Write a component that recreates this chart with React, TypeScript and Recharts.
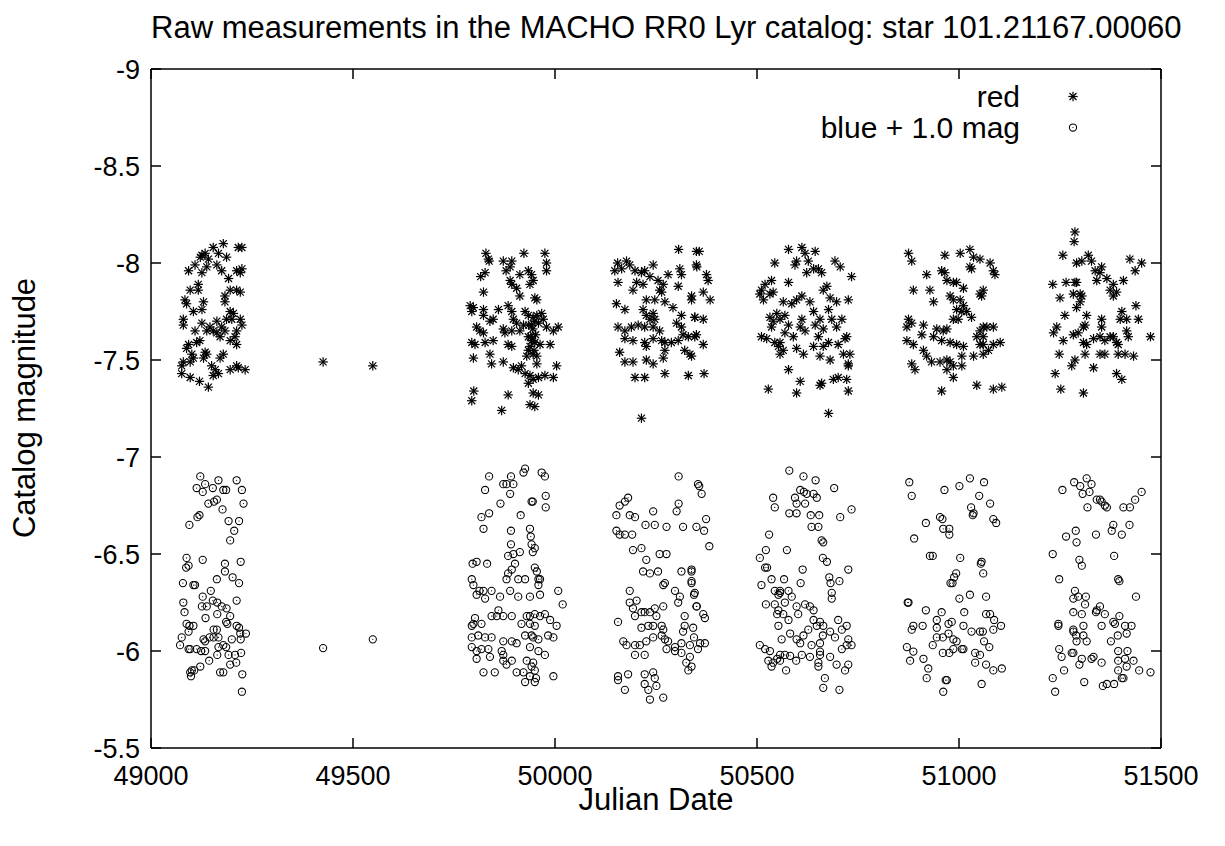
import React from "react";
import { ScatterChart, Scatter, XAxis, YAxis, Legend } from "recharts";

document.body.style.margin = "0";

type Pair = [number, number];

const FONT = '"Liberation Sans", Arial, Helvetica, sans-serif';
const TICK_SIZE = 27;
const LABEL_SIZE = 31;

const jdTicks = [49000, 49500, 50000, 50500, 51000, 51500];
const magTicks = [-9, -8.5, -8, -7.5, -7, -6.5, -6, -5.5];

// red band, [julian date, magnitude]
const redSeason1: Pair[] = [
  [49179, -8.1], [49154, -8.08], [49216, -8.08], [49225, -8.08], [49126, -8.04], [49134, -8.05],
  [49167, -8.05], [49187, -8.03], [49122, -8.03], [49142, -8.02], [49093, -7.96], [49109, -7.99],
  [49126, -7.95], [49138, -7.98], [49163, -7.99], [49175, -7.96], [49192, -7.92], [49212, -7.96],
  [49225, -7.97], [49221, -7.95], [49117, -7.89], [49097, -7.86], [49117, -7.86], [49196, -7.86],
  [49212, -7.86], [49221, -7.85], [49084, -7.81], [49088, -7.79], [49130, -7.8], [49126, -7.76],
  [49105, -7.75], [49183, -7.83], [49183, -7.8], [49196, -7.75], [49204, -7.74], [49080, -7.71],
  [49080, -7.68], [49109, -7.65], [49126, -7.69], [49146, -7.67], [49163, -7.7], [49175, -7.67],
  [49187, -7.71], [49200, -7.71], [49221, -7.71], [49225, -7.68], [49212, -7.65], [49183, -7.65],
  [49163, -7.64], [49171, -7.62], [49208, -7.62], [49212, -7.58], [49196, -7.6], [49154, -7.65],
  [49138, -7.65], [49121, -7.6], [49113, -7.59], [49093, -7.58], [49088, -7.56], [49101, -7.53],
  [49105, -7.51], [49080, -7.49], [49076, -7.47], [49097, -7.49], [49134, -7.54], [49138, -7.53],
  [49130, -7.51], [49179, -7.53], [49171, -7.51], [49150, -7.47], [49159, -7.45], [49167, -7.43],
  [49154, -7.42], [49196, -7.45], [49212, -7.47], [49216, -7.46], [49233, -7.45], [49076, -7.43],
  [49097, -7.41], [49120, -7.39], [49142, -7.36],
];

const redGap: Pair[] = [[49426, -7.49], [49549, -7.47]];

const redSeason2: Pair[] = [
  [49829, -8.05], [49835, -8.02], [49837, -8.01], [49923, -8.05], [49975, -8.05], [49979, -8.0],
  [49979, -7.96], [49872, -8.01], [49893, -8.01], [49889, -7.98], [49879, -7.96], [49913, -7.94],
  [49934, -7.96], [49942, -7.94], [49946, -7.91], [49938, -7.89], [49827, -7.95], [49816, -7.93],
  [49889, -7.91], [49893, -7.89], [49905, -7.87], [49913, -7.83], [49950, -7.82], [49955, -7.81],
  [49823, -7.85], [49790, -7.78], [49798, -7.77], [49794, -7.75], [49823, -7.76], [49823, -7.73],
  [49860, -7.76], [49884, -7.78], [49893, -7.75], [49847, -7.71], [49839, -7.7], [49926, -7.75],
  [49934, -7.73], [49946, -7.72], [49955, -7.73], [49967, -7.74], [49971, -7.71], [49897, -7.71],
  [49905, -7.69], [49922, -7.68], [49942, -7.68], [49959, -7.69], [49979, -7.67], [50008, -7.67],
  [49996, -7.65], [49806, -7.67], [49814, -7.65], [49823, -7.64], [49872, -7.66], [49876, -7.64],
  [49893, -7.65], [49913, -7.65], [49934, -7.62], [49942, -7.6], [49950, -7.59], [49938, -7.57],
  [49963, -7.58], [49988, -7.58], [49794, -7.59], [49802, -7.58], [49827, -7.59], [49847, -7.6],
  [49884, -7.58], [49893, -7.57], [49934, -7.55], [49946, -7.53], [49955, -7.52], [49930, -7.52],
  [49955, -7.48], [49798, -7.51], [49839, -7.53], [49843, -7.48], [49872, -7.49], [49917, -7.47],
  [49897, -7.46], [49909, -7.45], [49926, -7.43], [49938, -7.42], [49934, -7.38], [49946, -7.4],
  [49959, -7.41], [49975, -7.42], [49996, -7.41], [50004, -7.47], [49799, -7.34], [49794, -7.29],
  [49884, -7.32], [49946, -7.33], [49959, -7.32], [49868, -7.24], [49938, -7.27], [49950, -7.26],
  [49940, -7.62], [49945, -7.66], [49950, -7.7], [49935, -7.68], [49948, -7.55], [49952, -7.63],
];

const redSeason3: Pair[] = [
  [50306, -8.07], [50350, -8.06], [50350, -7.99], [50155, -8.0], [50148, -7.96], [50165, -7.97],
  [50177, -8.01], [50185, -7.99], [50198, -7.96], [50214, -7.95], [50222, -7.96], [50243, -7.99],
  [50235, -7.93], [50255, -7.91], [50268, -7.89], [50280, -7.94], [50309, -7.97], [50313, -7.94],
  [50193, -7.86], [50156, -7.9], [50202, -7.9], [50218, -7.89], [50259, -7.86], [50264, -7.85],
  [50305, -7.88], [50338, -7.83], [50338, -7.81], [50152, -7.79], [50173, -7.76], [50226, -7.81],
  [50247, -7.81], [50272, -7.8], [50292, -7.77], [50218, -7.76], [50226, -7.73], [50235, -7.71],
  [50243, -7.74], [50247, -7.71], [50313, -7.73], [50346, -7.72], [50156, -7.67], [50173, -7.65],
  [50189, -7.67], [50206, -7.68], [50222, -7.67], [50243, -7.67], [50259, -7.65], [50301, -7.69],
  [50313, -7.67], [50173, -7.61], [50193, -7.6], [50222, -7.59], [50226, -7.57], [50243, -7.61],
  [50264, -7.6], [50272, -7.59], [50288, -7.59], [50305, -7.6], [50317, -7.63], [50330, -7.62],
  [50350, -7.63], [50272, -7.55], [50321, -7.55], [50334, -7.53], [50338, -7.52], [50160, -7.54],
  [50173, -7.49], [50193, -7.49], [50226, -7.5], [50243, -7.48], [50268, -7.51], [50198, -7.41],
  [50222, -7.41], [50272, -7.43], [50330, -7.42], [50214, -7.2], [50357, -8.06], [50351, -7.98],
  [50375, -7.94], [50379, -7.91], [50367, -7.85], [50384, -7.81], [50346, -7.72], [50367, -7.71],
  [50346, -7.62], [50367, -7.58], [50369, -7.43],
];

const redSeason4: Pair[] = [
  [50544, -8.0], [50520, -7.89], [50511, -7.86], [50507, -7.84], [50516, -7.81], [50532, -7.84],
  [50540, -7.85], [50536, -7.91], [50532, -7.72], [50540, -7.7], [50549, -7.74], [50536, -7.67],
  [50511, -7.62], [50524, -7.61], [50544, -7.59], [50553, -7.57], [50557, -7.53], [50528, -7.35],
  [50578, -8.07], [50611, -8.08], [50619, -8.05], [50644, -8.06], [50598, -8.01], [50594, -7.99],
  [50627, -8.01], [50640, -7.97], [50652, -7.97], [50660, -7.95], [50623, -7.95], [50693, -8.01],
  [50706, -7.98], [50734, -7.93], [50578, -7.9], [50664, -7.86], [50673, -7.88], [50681, -7.82],
  [50697, -7.8], [50726, -7.81], [50611, -7.83], [50598, -7.81], [50565, -7.8], [50586, -7.79],
  [50631, -7.8], [50677, -7.76], [50710, -7.71], [50640, -7.75], [50656, -7.71], [50685, -7.71],
  [50611, -7.71], [50569, -7.73], [50557, -7.71], [50578, -7.68], [50607, -7.67], [50619, -7.65],
  [50644, -7.68], [50664, -7.66], [50697, -7.67], [50722, -7.62], [50718, -7.61], [50569, -7.64],
  [50590, -7.62], [50652, -7.62], [50677, -7.59], [50701, -7.58], [50598, -7.56], [50615, -7.53],
  [50640, -7.57], [50664, -7.57], [50557, -7.59], [50565, -7.55], [50714, -7.53], [50730, -7.53],
  [50656, -7.52], [50681, -7.5], [50726, -7.48], [50726, -7.47], [50578, -7.45], [50607, -7.39],
  [50660, -7.38], [50656, -7.37], [50689, -7.4], [50701, -7.41], [50722, -7.4], [50598, -7.33],
  [50726, -7.34], [50677, -7.225],
];

const redSeason5: Pair[] = [
  [50875, -8.05], [50883, -8.01], [50920, -7.94], [50965, -8.04], [51003, -8.05], [51027, -8.07],
  [51036, -8.03], [51052, -8.02], [51077, -8.0], [51031, -7.97], [51027, -7.98], [50957, -7.96],
  [50965, -7.95], [50970, -7.91], [50986, -7.9], [50994, -7.9], [51011, -7.87], [51085, -7.96],
  [51089, -7.94], [51052, -7.84], [51060, -7.86], [51056, -7.83], [50887, -7.86], [50928, -7.86],
  [50937, -7.8], [50978, -7.83], [50986, -7.81], [51003, -7.81], [51011, -7.78], [50994, -7.76],
  [51007, -7.75], [51019, -7.75], [50986, -7.71], [50998, -7.71], [51031, -7.72], [50875, -7.71],
  [50883, -7.69], [50871, -7.67], [50912, -7.68], [50945, -7.66], [50961, -7.65], [50970, -7.66],
  [50937, -7.62], [50908, -7.63], [50871, -7.6], [50887, -7.58], [50957, -7.6], [50978, -7.59],
  [50994, -7.58], [51052, -7.65], [51060, -7.67], [51069, -7.67], [51085, -7.67], [51102, -7.59],
  [51085, -7.58], [51052, -7.58], [51060, -7.58], [51011, -7.57], [51044, -7.62], [51060, -7.62],
  [50912, -7.55], [50920, -7.52], [50932, -7.49], [50953, -7.49], [50970, -7.5], [50978, -7.49],
  [51007, -7.52], [50986, -7.47], [50970, -7.45], [50883, -7.48], [50891, -7.45], [51007, -7.47],
  [50986, -7.41], [51036, -7.52], [51060, -7.53], [51073, -7.55], [50957, -7.34], [51044, -7.37],
  [51085, -7.35], [51106, -7.36],
];

const redSeason6: Pair[] = [
  [51287, -8.16], [51285, -8.11], [51257, -8.04], [51320, -8.04], [51304, -8.01], [51291, -8.0],
  [51328, -8.01], [51353, -7.98], [51349, -7.95], [51337, -7.96], [51366, -7.92], [51341, -7.91],
  [51407, -7.91], [51423, -8.02], [51452, -8.0], [51436, -7.96], [51232, -7.89], [51265, -7.9],
  [51287, -7.9], [51291, -7.9], [51382, -7.89], [51374, -7.86], [51390, -7.85], [51382, -7.83],
  [51250, -7.82], [51283, -7.84], [51300, -7.84], [51304, -7.83], [51300, -7.8], [51291, -7.77],
  [51438, -7.78], [51262, -7.73], [51316, -7.73], [51403, -7.75], [51353, -7.71], [51399, -7.71],
  [51415, -7.71], [51444, -7.71], [51242, -7.67], [51234, -7.64], [51258, -7.6], [51283, -7.63],
  [51295, -7.64], [51308, -7.67], [51312, -7.68], [51333, -7.61], [51349, -7.62], [51361, -7.6],
  [51374, -7.62], [51382, -7.62], [51390, -7.59], [51415, -7.65], [51419, -7.62], [51353, -7.67],
  [51308, -7.59], [51316, -7.58], [51394, -7.58], [51474, -7.62], [51248, -7.53], [51312, -7.53],
  [51349, -7.53], [51361, -7.53], [51394, -7.53], [51411, -7.53], [51432, -7.52], [51287, -7.5],
  [51279, -7.47], [51333, -7.46], [51238, -7.43], [51390, -7.43], [51403, -7.4], [51252, -7.35],
  [51308, -7.33],
];

// blue band (already shifted by +1.0 mag in the catalog plot)
const blueSeason1: Pair[] = [
  [49122, -6.9], [49134, -6.86], [49113, -6.84], [49128, -6.82], [49153, -6.84], [49167, -6.88],
  [49179, -6.83], [49186, -6.83], [49212, -6.88], [49225, -6.83], [49229, -6.76], [49142, -6.76],
  [49163, -6.78], [49156, -6.77], [49177, -6.73], [49120, -6.7], [49115, -6.69], [49095, -6.65],
  [49192, -6.67], [49218, -6.67], [49206, -6.62], [49196, -6.57], [49088, -6.48], [49087, -6.43],
  [49093, -6.44], [49128, -6.47], [49183, -6.45], [49222, -6.46], [49183, -6.41], [49202, -6.38],
  [49218, -6.35], [49163, -6.37], [49079, -6.35], [49105, -6.34], [49109, -6.34], [49148, -6.31],
  [49128, -6.28], [49126, -6.23], [49138, -6.23], [49153, -6.26], [49164, -6.25], [49175, -6.23],
  [49187, -6.22], [49212, -6.26], [49080, -6.25], [49083, -6.2], [49135, -6.17], [49164, -6.19],
  [49186, -6.15], [49196, -6.18], [49189, -6.14], [49088, -6.14], [49095, -6.13], [49105, -6.13],
  [49093, -6.1], [49155, -6.11], [49163, -6.11], [49212, -6.13], [49218, -6.12], [49221, -6.09],
  [49235, -6.09], [49076, -6.07], [49130, -6.06], [49134, -6.05], [49145, -6.07], [49155, -6.07],
  [49167, -6.07], [49200, -6.06], [49222, -6.06], [49072, -6.03], [49093, -6.01], [49097, -6.01],
  [49113, -6.01], [49124, -6.0], [49134, -6.0], [49167, -6.02], [49179, -6.03], [49186, -6.02],
  [49192, -5.98], [49208, -5.98], [49223, -5.99], [49164, -5.98], [49144, -5.95], [49196, -5.93],
  [49211, -5.94], [49122, -5.92], [49101, -5.9], [49097, -5.89], [49107, -5.9], [49099, -5.87],
  [49171, -5.89], [49179, -5.89], [49226, -5.88], [49225, -5.79],
];

const blueGap: Pair[] = [[49426, -6.015], [49549, -6.06]];

const blueSeason2: Pair[] = [
  [49926, -6.94], [49922, -6.92], [49967, -6.92], [49975, -6.9], [49837, -6.9], [49891, -6.9],
  [49872, -6.86], [49880, -6.86], [49897, -6.86], [49889, -6.81], [49827, -6.83], [49977, -6.8],
  [49977, -6.74], [49945, -6.77], [49942, -6.77], [49865, -6.76], [49837, -6.71], [49818, -6.69],
  [49823, -6.63], [49915, -6.7], [49891, -6.62], [49938, -6.63], [49940, -6.59], [49942, -6.55],
  [49950, -6.53], [49891, -6.55], [49897, -6.5], [49913, -6.51], [49884, -6.49], [49945, -6.51],
  [49796, -6.45], [49806, -6.46], [49832, -6.45], [49901, -6.45], [49893, -6.42], [49884, -6.4],
  [49880, -6.37], [49909, -6.37], [49926, -6.37], [49950, -6.43], [49955, -6.41], [49959, -6.37],
  [49963, -6.37], [49959, -6.34], [49794, -6.37], [49798, -6.34], [49813, -6.31], [49823, -6.31],
  [49827, -6.27], [49806, -6.29], [49843, -6.31], [49864, -6.28], [49889, -6.31], [49909, -6.28],
  [49938, -6.28], [49963, -6.29], [50008, -6.31], [50019, -6.24], [49860, -6.21], [49843, -6.18],
  [49856, -6.18], [49872, -6.18], [49893, -6.18], [49802, -6.17], [49798, -6.14], [49794, -6.13],
  [49818, -6.14], [49930, -6.18], [49938, -6.18], [49950, -6.19], [49963, -6.18], [49975, -6.19],
  [49917, -6.14], [49938, -6.14], [49950, -6.13], [49988, -6.16], [50004, -6.13], [49794, -6.07],
  [49810, -6.08], [49827, -6.07], [49843, -6.07], [49872, -6.05], [49893, -6.05], [49905, -6.04],
  [49926, -6.08], [49942, -6.08], [49946, -6.07], [49959, -6.06], [49983, -6.08], [49996, -6.07],
  [49794, -6.02], [49806, -6.0], [49818, -6.01], [49835, -6.01], [49868, -6.0], [49872, -5.98],
  [49938, -6.02], [49959, -6.0], [49975, -5.98], [49806, -5.96], [49839, -5.97], [49872, -5.95],
  [49893, -5.95], [49930, -5.95], [49946, -5.94], [49880, -5.93], [49942, -5.92], [49950, -5.9],
  [49823, -5.89], [49851, -5.89], [49905, -5.89], [49922, -5.89], [49938, -5.87], [49953, -5.86],
  [49926, -5.84], [49950, -5.84], [49996, -5.87],
];

const blueSeason3: Pair[] = [
  [50306, -6.9], [50354, -6.86], [50181, -6.79], [50173, -6.77], [50160, -6.75], [50152, -6.7],
  [50185, -6.7], [50198, -6.69], [50243, -6.72], [50306, -6.76], [50301, -6.72], [50152, -6.62],
  [50160, -6.6], [50173, -6.6], [50191, -6.6], [50224, -6.65], [50247, -6.65], [50276, -6.64],
  [50317, -6.64], [50350, -6.64], [50193, -6.52], [50214, -6.53], [50226, -6.47], [50259, -6.5],
  [50276, -6.5], [50218, -6.41], [50235, -6.4], [50255, -6.41], [50313, -6.41], [50338, -6.41],
  [50272, -6.35], [50268, -6.34], [50338, -6.35], [50185, -6.31], [50297, -6.31], [50346, -6.3],
  [50185, -6.25], [50202, -6.26], [50309, -6.28], [50305, -6.25], [50268, -6.23], [50350, -6.23],
  [50193, -6.22], [50247, -6.22], [50156, -6.15], [50198, -6.18], [50214, -6.2], [50222, -6.2],
  [50235, -6.2], [50251, -6.18], [50321, -6.18], [50321, -6.13], [50214, -6.12], [50231, -6.13],
  [50243, -6.13], [50264, -6.13], [50268, -6.11], [50317, -6.1], [50342, -6.12], [50169, -6.05],
  [50177, -6.03], [50198, -6.03], [50210, -6.03], [50226, -6.05], [50243, -6.07], [50264, -6.08],
  [50272, -6.06], [50280, -6.05], [50297, -6.02], [50313, -6.04], [50334, -6.03], [50354, -6.01],
  [50198, -5.98], [50222, -5.98], [50276, -6.01], [50297, -6.0], [50313, -5.99], [50325, -5.94],
  [50330, -5.9], [50156, -5.87], [50156, -5.85], [50181, -5.88], [50222, -5.88], [50243, -5.89],
  [50247, -5.86], [50222, -5.83], [50231, -5.8], [50251, -5.82], [50173, -5.8], [50268, -5.76],
  [50235, -5.75], [50357, -6.85], [50363, -6.81], [50374, -6.68], [50369, -6.62], [50382, -6.54],
  [50338, -6.42], [50338, -6.36], [50344, -6.29], [50351, -6.23], [50367, -6.19], [50371, -6.17],
  [50344, -6.07], [50359, -6.04], [50371, -6.04], [50334, -5.97], [50338, -5.92],
];

const blueSeason4: Pair[] = [
  [50540, -6.79], [50544, -6.74], [50530, -6.6], [50522, -6.52], [50507, -6.48], [50520, -6.43],
  [50525, -6.43], [50536, -6.37], [50511, -6.34], [50544, -6.31], [50557, -6.31], [50553, -6.29],
  [50522, -6.24], [50544, -6.24], [50553, -6.21], [50550, -6.19], [50553, -6.13], [50507, -6.03],
  [50520, -6.01], [50532, -6.0], [50528, -5.95], [50540, -5.94], [50550, -5.96], [50536, -5.92],
  [50557, -5.95], [50580, -6.93], [50615, -6.9], [50645, -6.88], [50691, -6.84], [50607, -6.83],
  [50616, -6.82], [50623, -6.81], [50640, -6.81], [50648, -6.79], [50594, -6.79], [50598, -6.76],
  [50619, -6.76], [50580, -6.71], [50598, -6.71], [50633, -6.7], [50654, -6.7], [50706, -6.69],
  [50734, -6.73], [50635, -6.64], [50652, -6.64], [50660, -6.57], [50664, -6.56], [50574, -6.52],
  [50663, -6.48], [50673, -6.46], [50613, -6.42], [50726, -6.42], [50608, -6.35], [50679, -6.38],
  [50682, -6.35], [50704, -6.36], [50685, -6.3], [50685, -6.27], [50567, -6.37], [50557, -6.3],
  [50578, -6.31], [50569, -6.25], [50586, -6.28], [50598, -6.23], [50602, -6.19], [50619, -6.24],
  [50631, -6.23], [50640, -6.21], [50640, -6.16], [50656, -6.15], [50565, -6.19], [50578, -6.16],
  [50582, -6.09], [50598, -6.06], [50607, -6.04], [50615, -6.08], [50627, -6.11], [50648, -6.13],
  [50664, -6.13], [50663, -6.08], [50681, -6.1], [50693, -6.07], [50701, -6.16], [50710, -6.11],
  [50722, -6.13], [50726, -6.06], [50734, -6.03], [50656, -6.04], [50635, -6.03], [50561, -6.06],
  [50569, -5.98], [50582, -5.975], [50611, -5.98], [50631, -5.97], [50656, -5.997], [50656, -5.98],
  [50681, -5.97], [50710, -6.01], [50722, -6.03], [50652, -5.94], [50652, -5.92], [50697, -5.93],
  [50726, -5.93], [50718, -5.9], [50572, -5.9], [50597, -5.95], [50668, -5.86], [50664, -5.81],
  [50704, -5.8], [50557, -5.98],
];

const blueSeason5: Pair[] = [
  [50877, -6.87], [50883, -6.8], [50964, -6.83], [51001, -6.85], [51027, -6.89], [51062, -6.87],
  [51050, -6.8], [51077, -6.76], [51030, -6.74], [51034, -6.7], [51036, -6.71], [50918, -6.66],
  [50953, -6.69], [50959, -6.68], [50961, -6.63], [50976, -6.63], [50976, -6.6], [51085, -6.68],
  [51092, -6.66], [50889, -6.58], [50928, -6.49], [50935, -6.49], [51003, -6.48], [51056, -6.46],
  [51054, -6.45], [51060, -6.4], [50993, -6.4], [50988, -6.38], [50984, -6.35], [50979, -6.35],
  [50873, -6.25], [50875, -6.25], [50918, -6.21], [50957, -6.2], [51013, -6.2], [51001, -6.27],
  [51027, -6.29], [51067, -6.28], [50974, -6.14], [50982, -6.15], [50887, -6.13], [50910, -6.13],
  [50883, -6.11], [50945, -6.16], [50945, -6.12], [50960, -6.07], [50974, -6.09], [50986, -6.06],
  [50994, -6.05], [51011, -6.01], [50945, -6.07], [50976, -5.99], [51011, -6.13], [51031, -6.1],
  [51052, -6.1], [51059, -6.1], [51062, -6.05], [51085, -6.11], [51104, -6.13], [51087, -6.16],
  [51067, -6.19], [51077, -6.19], [50871, -6.02], [50887, -5.997], [50879, -5.95], [50935, -6.03],
  [50912, -5.96], [50924, -5.91], [50960, -5.99], [50986, -6.01], [51007, -6.01], [51040, -5.99],
  [51052, -5.98], [51075, -6.02], [51040, -5.94], [51067, -5.93], [51085, -5.9], [51106, -5.91],
  [50920, -5.86], [50970, -5.85], [50967, -5.85], [50961, -5.79], [51056, -5.83],
];

const blueSeason6: Pair[] = [
  [51256, -6.83], [51285, -6.87], [51300, -6.85], [51316, -6.89], [51328, -6.86], [51323, -6.82],
  [51306, -6.81], [51341, -6.78], [51349, -6.78], [51353, -6.77], [51361, -6.75], [51366, -6.74],
  [51407, -6.74], [51423, -6.74], [51436, -6.78], [51452, -6.82], [51318, -6.74], [51265, -6.59],
  [51289, -6.62], [51291, -6.56], [51339, -6.6], [51378, -6.62], [51382, -6.65], [51403, -6.6],
  [51422, -6.65], [51232, -6.5], [51298, -6.47], [51304, -6.44], [51384, -6.49], [51394, -6.37],
  [51397, -6.36], [51438, -6.28], [51248, -6.37], [51287, -6.31], [51283, -6.27], [51295, -6.28],
  [51314, -6.28], [51312, -6.24], [51283, -6.2], [51304, -6.19], [51341, -6.21], [51349, -6.23],
  [51339, -6.2], [51361, -6.19], [51353, -6.13], [51382, -6.15], [51386, -6.14], [51397, -6.18],
  [51411, -6.13], [51427, -6.13], [51246, -6.14], [51246, -6.13], [51283, -6.11], [51283, -6.1],
  [51308, -6.13], [51290, -6.08], [51308, -6.08], [51316, -6.05], [51291, -6.05], [51376, -6.05],
  [51393, -6.08], [51415, -6.09], [51248, -6.01], [51254, -5.97], [51279, -5.99], [51283, -5.99],
  [51328, -5.96], [51333, -5.97], [51353, -5.94], [51298, -5.93], [51304, -5.96], [51394, -6.0],
  [51417, -6.0], [51411, -5.96], [51432, -5.95], [51394, -5.95], [51415, -5.92], [51394, -5.9],
  [51446, -5.9], [51474, -5.89], [51232, -5.86], [51260, -5.9], [51310, -5.84], [51366, -5.83],
  [51356, -5.82], [51384, -5.83], [51407, -5.86], [51403, -5.86], [51238, -5.79],
];

const toPoints = (rows: Pair[]) => rows.map(([jd, mag]) => ({ jd, mag }));

const redPoints = toPoints([
  ...redSeason1, ...redGap, ...redSeason2, ...redSeason3, ...redSeason4, ...redSeason5, ...redSeason6,
]);
const bluePoints = toPoints([
  ...blueSeason1, ...blueGap, ...blueSeason2, ...blueSeason3, ...blueSeason4, ...blueSeason5, ...blueSeason6,
]);

function StarMark(props: any) {
  const { cx, cy } = props;
  if (cx == null || cy == null) return <g />;
  const a = 4.7;
  const d = 3.5;
  return (
    <g stroke="#000" strokeWidth={1.2}>
      <line x1={cx - a} y1={cy} x2={cx + a} y2={cy} />
      <line x1={cx} y1={cy - a} x2={cx} y2={cy + a} />
      <line x1={cx - d} y1={cy - d} x2={cx + d} y2={cy + d} />
      <line x1={cx - d} y1={cy + d} x2={cx + d} y2={cy - d} />
    </g>
  );
}

function RingMark(props: any) {
  const { cx, cy } = props;
  if (cx == null || cy == null) return <g />;
  return (
    <g>
      <circle cx={cx} cy={cy} r={3.6} fill="none" stroke="#000" strokeWidth={1.05} />
      <circle cx={cx} cy={cy} r={0.6} fill="#000" />
    </g>
  );
}

const legendRows = [
  { label: "red", Mark: StarMark },
  { label: "blue + 1.0 mag", Mark: RingMark },
];

function LegendBox() {
  return (
    <div style={{ fontFamily: FONT, fontSize: 30, color: "#000" }}>
      {legendRows.map(({ label, Mark }) => (
        <div key={label} style={{ display: "flex", height: 31, alignItems: "center" }}>
          <span style={{ width: 320, textAlign: "right", lineHeight: "31px", whiteSpace: "nowrap" }}>
            {label}
          </span>
          <svg width={106} height={31}>
            <Mark cx={53} cy={15.5} />
          </svg>
        </div>
      ))}
    </div>
  );
}

const tickStyle = { fill: "#000", fontSize: TICK_SIZE, fontFamily: FONT };
const blank = () => <g />;
const frame = { stroke: "#000", strokeWidth: 1.5 };

export default function App() {
  return (
    <div style={{ position: "relative", width: 1225, height: 846, background: "#fff", fontFamily: FONT }}>
      <div
        style={{
          position: "absolute", left: 151, width: 1010, top: 10, textAlign: "center",
          fontSize: LABEL_SIZE, lineHeight: "36px", color: "#000", whiteSpace: "nowrap",
        }}
      >
        Raw measurements in the MACHO RR0 Lyr catalog: star 101.21167.00060
      </div>
      <div
        style={{
          position: "absolute", left: 25, top: 408, transform: "translate(-50%, -50%) rotate(-90deg)",
          fontSize: LABEL_SIZE, lineHeight: "36px", color: "#000", whiteSpace: "nowrap",
        }}
      >
        Catalog magnitude
      </div>
      <div
        style={{
          position: "absolute", left: 151, width: 1010, top: 782, textAlign: "center",
          fontSize: LABEL_SIZE, lineHeight: "36px", color: "#000", whiteSpace: "nowrap",
        }}
      >
        Julian Date
      </div>
      <ScatterChart width={1225} height={846} margin={{ top: 68, right: 63, left: 0, bottom: 0 }}>
        <XAxis
          xAxisId="bottom"
          dataKey="jd"
          type="number"
          domain={[49000, 51500]}
          ticks={jdTicks}
          allowDataOverflow
          height={98}
          tickSize={-10}
          tickMargin={28}
          tick={tickStyle}
          axisLine={frame}
          tickLine={frame}
        />
        <XAxis
          xAxisId="top"
          orientation="top"
          dataKey="jd"
          type="number"
          domain={[49000, 51500]}
          ticks={jdTicks}
          allowDataOverflow
          height={1}
          tickSize={-10}
          tick={blank}
          axisLine={frame}
          tickLine={frame}
        />
        <YAxis
          yAxisId="left"
          dataKey="mag"
          type="number"
          domain={[-9, -5.5]}
          ticks={magTicks}
          reversed
          allowDataOverflow
          width={151}
          tickSize={-10}
          tickMargin={21}
          tick={tickStyle}
          axisLine={frame}
          tickLine={frame}
        />
        <YAxis
          yAxisId="right"
          orientation="right"
          dataKey="mag"
          type="number"
          domain={[-9, -5.5]}
          ticks={magTicks}
          reversed
          allowDataOverflow
          width={1}
          tickSize={-10}
          tick={blank}
          axisLine={frame}
          tickLine={frame}
        />
        <Legend
          layout="horizontal"
          verticalAlign="middle"
          align="center"
          content={() => <LegendBox />}
          wrapperStyle={{ top: 81, left: 700, width: 426 }}
        />
        {/* invisible copy bound to the mirror axes so the top/right frame gets drawn */}
        <Scatter
          name="frame"
          data={redPoints}
          xAxisId="top"
          yAxisId="right"
          shape={blank}
          legendType="none"
          isAnimationActive={false}
        />
        <Scatter
          name="red"
          data={redPoints}
          xAxisId="bottom"
          yAxisId="left"
          shape={(p: any) => <StarMark {...p} />}
          isAnimationActive={false}
        />
        <Scatter
          name="blue + 1.0 mag"
          data={bluePoints}
          xAxisId="bottom"
          yAxisId="left"
          shape={(p: any) => <RingMark {...p} />}
          isAnimationActive={false}
        />
      </ScatterChart>
    </div>
  );
}
